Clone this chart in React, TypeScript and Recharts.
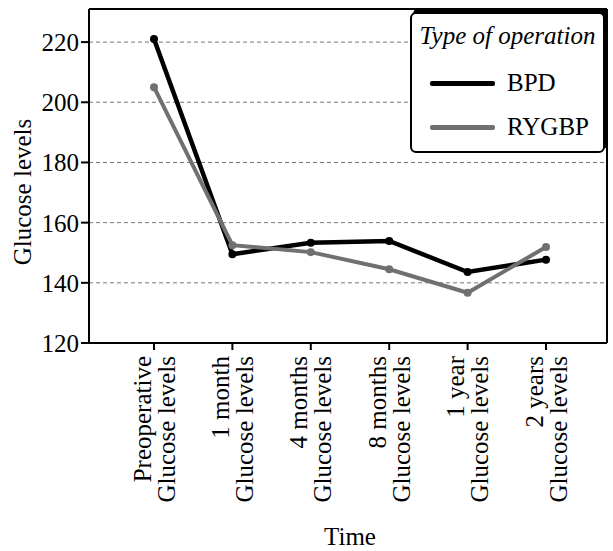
import React from "react";
import {
  LineChart,
  Line,
  XAxis,
  YAxis,
  CartesianGrid,
} from "recharts";

const timepoints = ["Preoperative", "1 month", "4 months", "8 months", "1 year", "2 years"];
const labelSuffix = "Glucose levels";
const bpdValues = [221, 149.5, 153.3, 153.9, 143.6, 147.7];
const rygbpValues = [205, 152.5, 150.2, 144.5, 136.7, 151.9];
const yTicks = [120, 140, 160, 180, 200, 220];
const seriesNames = ["BPD", "RYGBP"];

const FONT = "Liberation Serif, Times New Roman, serif";
const BPD_COLOR = "#000000";
const RYGBP_COLOR = "#707070";

const data = timepoints.map((t, i) => ({
  time: t,
  BPD: bpdValues[i],
  RYGBP: rygbpValues[i],
}));

function TimeTick(props: any) {
  const { x, y, payload } = props;
  return (
    <text
      transform={`translate(${x},${y + 4}) rotate(-90)`}
      textAnchor="end"
      fontFamily={FONT}
      fontSize={25}
      fill="#000"
    >
      <tspan x={0} dy={-3.5}>{payload.value}</tspan>
      <tspan x={0} dy={24}>{labelSuffix}</tspan>
    </text>
  );
}

// legend drawn in html on top of the plot, like the original box
function LegendBox() {
  const row = (color: string, name: string) => (
    <div key={name} style={{ display: "flex", alignItems: "center", height: 44 }}>
      <div
        style={{
          width: 65,
          height: 5,
          background: color,
          borderRadius: 2,
          marginLeft: 18,
          marginRight: 12,
        }}
      />
      <span>{name}</span>
    </div>
  );
  return (
    <div
      style={{
        position: "absolute",
        left: 410,
        top: 12,
        width: 195,
        height: 141,
        boxSizing: "border-box",
        border: "2px solid #000",
        borderRadius: 6,
        background: "#fff",
        boxShadow: "3px -4px 0 #000",
        fontFamily: FONT,
        fontSize: 25,
        lineHeight: "30px",
        color: "#000",
      }}
    >
      <div style={{ fontStyle: "italic", textAlign: "center", marginTop: 7, height: 40 }}>
        Type of operation
      </div>
      {row(BPD_COLOR, seriesNames[0])}
      {row(RYGBP_COLOR, seriesNames[1])}
    </div>
  );
}

export default function App() {
  return (
    <div
      style={{
        position: "absolute",
        left: 0,
        top: 0,
        width: 613,
        height: 551,
        background: "#fff",
        fontFamily: FONT,
      }}
    >
      <LineChart
        width={613}
        height={551}
        data={data}
        margin={{ top: 8, right: 5, left: 0, bottom: 0 }}
      >
        <CartesianGrid
          horizontal
          vertical={false}
          horizontalValues={yTicks.slice(1)}
          stroke="#777"
          strokeDasharray="4 3"
        />
        <XAxis
          dataKey="time"
          height={208}
          padding={{ left: 65, right: 61 }}
          interval={0}
          tick={<TimeTick />}
          tickSize={7}
          axisLine={{ stroke: "#000", strokeWidth: 2 }}
          tickLine={{ stroke: "#000", strokeWidth: 2 }}
          label={{
            content: () => (
              <text x={350} y={545} textAnchor="middle" fontFamily={FONT} fontSize={25} fill="#000">
                Time
              </text>
            ),
          }}
        />
        <XAxis
          xAxisId="top"
          orientation="top"
          dataKey="time"
          height={1}
          tick={false}
          tickLine={false}
          axisLine={{ stroke: "#000", strokeWidth: 2 }}
        />
        <YAxis
          width={89}
          domain={[120, 231]}
          ticks={yTicks}
          allowDataOverflow
          tickSize={8}
          tick={{ fontFamily: FONT, fontSize: 25, fill: "#000" }}
          axisLine={{ stroke: "#000", strokeWidth: 2 }}
          tickLine={{ stroke: "#000", strokeWidth: 2 }}
          label={{
            content: () => (
              <text
                transform="translate(31,192) rotate(-90)"
                textAnchor="middle"
                fontFamily={FONT}
                fontSize={25}
                fill="#000"
              >
                Glucose levels
              </text>
            ),
          }}
        />
        <YAxis
          yAxisId="right"
          orientation="right"
          width={1}
          domain={[120, 231]}
          tick={false}
          tickLine={false}
          axisLine={{ stroke: "#000", strokeWidth: 2 }}
        />
        <Line
          type="linear"
          dataKey="BPD"
          stroke={BPD_COLOR}
          strokeWidth={4.5}
          dot={{ r: 4, strokeWidth: 0, fill: BPD_COLOR }}
          isAnimationActive={false}
        />
        <Line
          type="linear"
          dataKey="RYGBP"
          stroke={RYGBP_COLOR}
          strokeWidth={4}
          dot={{ r: 4, strokeWidth: 0, fill: RYGBP_COLOR }}
          isAnimationActive={false}
        />
      </LineChart>
      <LegendBox />
    </div>
  );
}
